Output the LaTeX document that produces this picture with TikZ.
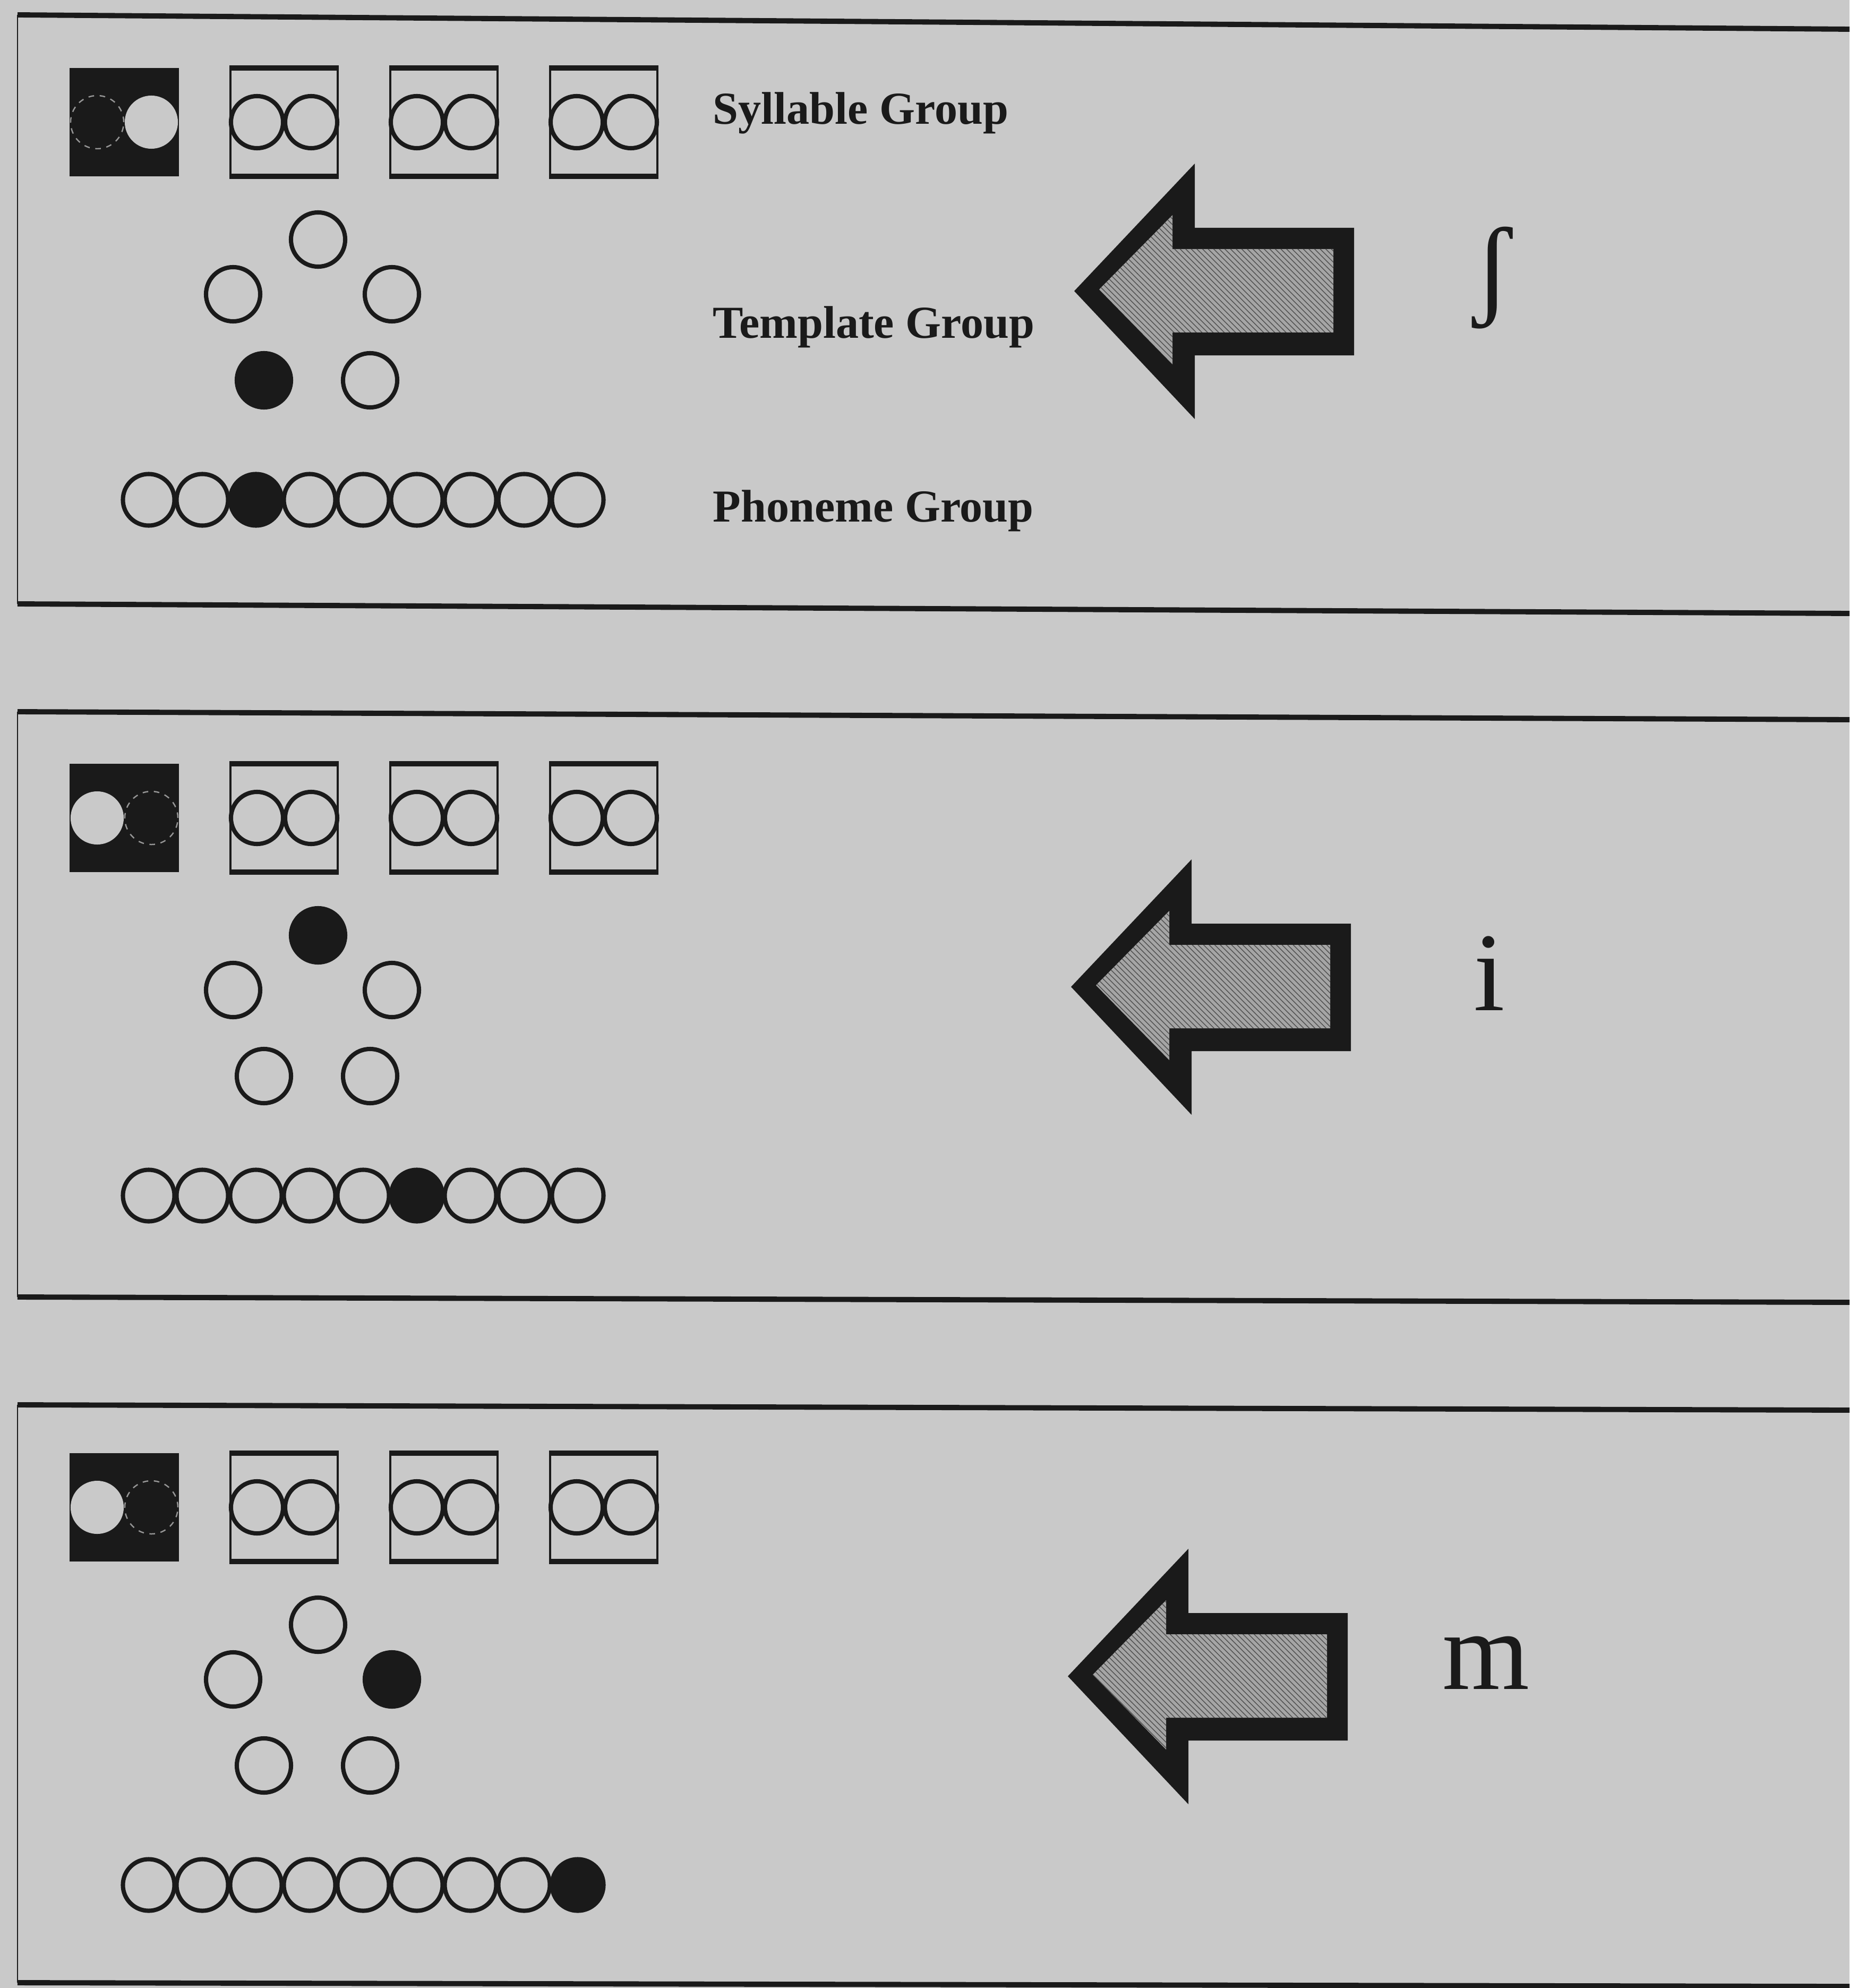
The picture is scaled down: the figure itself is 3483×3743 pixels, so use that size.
\documentclass[tikz,border=0pt]{standalone}
\usepackage{fontspec}
\setmainfont{Liberation Serif}
\usetikzlibrary{positioning,patterns}
\definecolor{PNpaper}{RGB}{201,201,201}
\definecolor{PNink}{RGB}{26,26,26}
\definecolor{PNhatch}{RGB}{165,165,165}
\definecolor{PNhatchline}{RGB}{80,80,80}
\definecolor{PNghost}{RGB}{150,150,150}
\tikzset{
  panelline/.style={draw=PNink,line width=2.8pt},
  panelside/.style={draw=PNink,line width=0.8pt},
  sylbox/.style={rectangle,draw=PNink,line width=1.1pt,inner sep=0pt,
                 minimum width=2.02cm,minimum height=2.0cm},
  sylboxon/.style={rectangle,fill=PNink,inner sep=0pt,
                 minimum width=2.06cm,minimum height=2.03cm},
  boxedge/.style={draw=PNink,line width=2.6pt},
  unit/.style={circle,draw=PNink,line width=2.3pt,inner sep=0pt,minimum size=1.02cm},
  uniton/.style={unit,fill=PNink},
  slot/.style={unit,minimum size=0.98cm},
  phone/.style={unit,minimum size=0.97cm},
  phoneon/.style={phone,fill=PNink},
  hole/.style={circle,fill=PNpaper,inner sep=0pt,minimum size=1.0cm},
  ghost/.style={circle,draw=PNghost,dashed,line width=0.7pt,inner sep=0pt,minimum size=1.0cm},
  grouplabel/.style={anchor=west,inner sep=0pt,text=PNink,
                     font=\fontsize{24.5}{28}\selectfont\bfseries},
  sound/.style={inner sep=0pt,text=PNink,font=\fontsize{60}{60}\selectfont},
  bigarrow/.style={fill=PNink},
  arrowfill/.style={fill=PNhatch},
  arrowhatch/.style={pattern=north west lines,pattern color=PNhatchline}
}

\begin{document}
\begin{tikzpicture}[x=0.01cm,y=-0.01cm]
  \fill[PNpaper] (0,0) rectangle (3483,3743);
  \useasboundingbox (0,0) rectangle (3483,3743);

  % panel frames, open on the right
  \draw[panelline] (33,28) -- (3483,55);
  \draw[panelline] (33,1137) -- (3483,1155);
  \draw[panelside] (33,28) -- (33,1137);
  \draw[panelline] (33,1340) -- (3483,1355);
  \draw[panelline] (33,2442) -- (3483,2452);
  \draw[panelside] (33,1340) -- (33,2442);
  \draw[panelline] (33,2645) -- (3483,2655);
  \draw[panelline] (33,3733) -- (3483,3740);
  \draw[panelside] (33,2645) -- (33,3733);

  % one step per panel: active phoneme, active template unit, input sound
  \foreach \p/\dy/\dxa/\ph/\tp/\hole/\ghost/\sym in
      {1/0/0/3/4/51/-51/ʃ, 2/1310/-6/6/1/-51/51/i, 3/2608/-12/9/3/-51/51/m}{
    \begin{scope}[shift={(0,\dy)}]
      % syllable group
      \node[sylboxon] (syl\p-1) at (234,230) {};
      \node[hole] (syl\p-1h) at ({234+\hole},230) {};
      \node[ghost] (syl\p-1g) at ({234+\ghost},230) {};
      \foreach \s in {2,3,4}{
        \node[sylbox] (syl\p-\s) at ({234+301*(\s-1)},230) {};
        \draw[boxedge] (syl\p-\s.north west) -- (syl\p-\s.north east);
        \draw[boxedge] (syl\p-\s.south west) -- (syl\p-\s.south east);
        \node[slot] (syl\p-\s a) at ({234+301*(\s-1)-51},230) {};
        \node[slot] (syl\p-\s b) at ({234+301*(\s-1)+51},230) {};
      }
      % template group
      \foreach \t/\tx/\ty in {1/599/451, 2/439/554, 3/738/554, 4/497/716, 5/697/716}{
        \ifnum\t=\tp \def\st{uniton}\else\def\st{unit}\fi
        \node[\st] (tp\p-\t) at (\tx,\ty) {};
      }
      % phoneme group
      \foreach \k in {1,...,9}{
        \ifnum\k=\ph \def\st{phoneon}\else\def\st{phone}\fi
        \node[\st] (ph\p-\k) at ({280+101*(\k-1)},941) {};
      }
      % input arrow and sound
      \begin{scope}[shift={(\dxa,0)}]
        \fill[bigarrow] (2023,548) -- (2250,308) -- (2250,429) -- (2550,429)
          -- (2550,669) -- (2250,669) -- (2250,789) -- cycle;
        \fill[arrowfill] (2070,545) -- (2208,405) -- (2208,469) -- (2511,469)
          -- (2511,626) -- (2208,626) -- (2208,686) -- cycle;
        \fill[arrowhatch] (2070,545) -- (2208,405) -- (2208,469) -- (2511,469)
          -- (2511,626) -- (2208,626) -- (2208,686) -- cycle;
        \node[sound] (sym\p) at (2811,523) {\sym};
      \end{scope}
    \end{scope}
  }

  \node[grouplabel] (lblsyl) at (1342,213) {Syllable Group};
  \node[grouplabel] (lbltp) at (1342,616) {Template Group};
  \node[grouplabel] (lblph) at (1342,962) {Phoneme Group};
\end{tikzpicture}
\end{document}
